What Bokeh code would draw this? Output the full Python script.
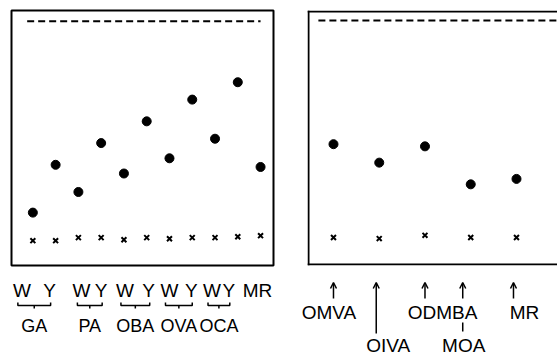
from bokeh.plotting import figure
from bokeh.models import Range1d, Span, Arrow, OpenHead, ColumnDataSource
from bokeh.layouts import column, row
from bokeh.embed import file_html
from bokeh.resources import INLINE
from bokeh.core.properties import value

# ---------------- data ----------------
left_groups = ["GA", "PA", "OBA", "OVA", "OCA"]
left_labels = ["W", "Y", "W", "Y", "W", "Y", "W", "Y", "W", "Y", "MR"]
left_treated = [12, 34, 21.5, 44, 30, 54, 37, 64, 46, 72, 33]
left_blank = [-0.9, -0.9, 0.5, 0.5, -0.5, 0.5, 0, 0.5, 0.5, 0.9, 1.4]

right_compounds = ["OMVA", "OIVA", "ODMBA", "MOA", "MR"]
right_treated = [43, 34.5, 42, 24.5, 27]
right_blank = [0, -0.5, 1, 0, 0]

reference_level = 100

# ---------------- layout / style (not data) ----------------
FONT = "Liberation Sans"
L_PPU = 22.77      # px per category, left panel
R_PPU = 45.75      # px per category, right panel
left_label_dx = [-11, -6, 3, 0, 1, 2, 0, -1, -3, -9, -3]
right_label_dx = [-4.5, 9, 17.5, -7, 8]
right_arrow_dx = [0, -3, 0, -8, -3]
right_lower_row = [False, True, False, True, False]


def base_fig(w, h, xr, yr, **kw):
    p = figure(width=w, height=h, x_range=xr, y_range=yr, output_backend="svg",
               toolbar_location=None, tools="", **kw)
    p.axis.visible = False
    p.grid.visible = False
    p.background_fill_color = "white"
    p.border_fill_color = "white"
    return p


# ---------------- left panel ----------------
lx = list(range(len(left_labels)))
l_start = -0.938
l_xr = Range1d(l_start, l_start + 262 / L_PPU)
p1 = base_fig(290, 270, l_xr, Range1d(-12.33, 105.0),
              min_border_left=11, min_border_right=17, min_border_top=10, min_border_bottom=3)
p1.outline_line_color = "black"
p1.outline_line_width = 2
p1.line([lx[0] - 0.25, lx[-1]], [reference_level] * 2, line_color="black",
        line_width=2, line_dash="7 4")
p1.scatter(lx, left_treated, size=9, color="black")
p1.scatter(lx, left_blank, marker="x", size=7, line_color="black", line_width=2)

# left label strip (frame spans the whole strip, same x mapping as the panel)
s1_xr = Range1d(l_start - 11 / L_PPU, l_start + (262 + 17) / L_PPU)
s1 = base_fig(290, 87, s1_xr, Range1d(87, 0),
              min_border_left=0, min_border_right=0, min_border_top=0, min_border_bottom=0)
s1.outline_line_color = None
s1.text(lx, [20] * len(lx), text=left_labels, x_offset=left_label_dx,
        text_align="center", text_baseline="middle",
        text_font=value(FONT), text_font_size="19px", text_color="black")
gx, bx, by = [], [], []
for i in range(len(left_groups)):
    w, y = 2 * i, 2 * i + 1
    a = lx[w] + (left_label_dx[w] - 4) / L_PPU
    b = lx[y] + (left_label_dx[y] + 1) / L_PPU
    m = (a + b) / 2
    gx.append(m)
    bx.append([a, a, b, b]); by.append([32, 35, 35, 32])
    bx.append([m, m]); by.append([35, 38])
s1.multi_line(bx, by, line_color="black", line_width=1.5)
s1.text(gx, [55] * len(gx), text=left_groups, text_align="center", text_baseline="middle",
        text_font=value(FONT), text_font_size="18px", text_color="black")

# ---------------- right panel ----------------
rx = list(range(len(right_compounds)))
r_start = -0.568
r_xr = Range1d(r_start, r_start + 250 / R_PPU)
r_yr = Range1d(-12.9, 104.6)
p2 = base_fig(267, 270, r_xr, r_yr,
              min_border_left=17, min_border_right=0, min_border_top=10, min_border_bottom=5)
p2.outline_line_color = None
px_y = 255 / (r_yr.end - r_yr.start)
p2.add_layout(Span(location=r_xr.start + 1 / R_PPU, dimension="height", line_color="black", line_width=2))
p2.add_layout(Span(location=r_yr.end - 1 / px_y, dimension="width", line_color="black", line_width=2))
p2.add_layout(Span(location=r_yr.start + 1 / px_y, dimension="width", line_color="black", line_width=2))
p2.line([rx[0] - 0.33, r_xr.end], [reference_level] * 2, line_color="black",
        line_width=2, line_dash="7 4")
p2.scatter(rx, right_treated, size=9, color="black")
p2.scatter(rx, right_blank, marker="x", size=7, line_color="black", line_width=2)

# right label strip
s2_xr = Range1d(r_start - 17 / R_PPU, r_start + 250 / R_PPU)
s2 = base_fig(267, 87, s2_xr, Range1d(87, 0),
              min_border_left=0, min_border_right=0, min_border_top=0, min_border_bottom=0)
s2.outline_line_color = None
src = ColumnDataSource(dict(
    x=rx, y=[75 if low else 42 for low in right_lower_row], t=right_compounds, dx=right_label_dx))
s2.text("x", "y", text="t", x_offset="dx", source=src, text_align="center",
        text_baseline="middle",
        text_font=value(FONT), text_font_size="19px", text_color="black")
for i, low in enumerate(right_lower_row):
    ax = rx[i] + right_arrow_dx[i] / R_PPU
    long_arrow = low and right_label_dx[i] > 0
    y0 = 63 if long_arrow else 28
    s2.add_layout(Arrow(end=OpenHead(size=6, line_width=1.5, line_color="black"),
                        x_start=ax, y_start=y0, x_end=ax, y_end=12,
                        line_width=1.5, line_color="black"))
    if low and not long_arrow:
        s2.line([ax, ax], [52, 61], line_color="black", line_width=1.5)

layout = column(row(p1, p2), row(s1, s2))
open("out.html", "w").write(file_html(layout, INLINE))
